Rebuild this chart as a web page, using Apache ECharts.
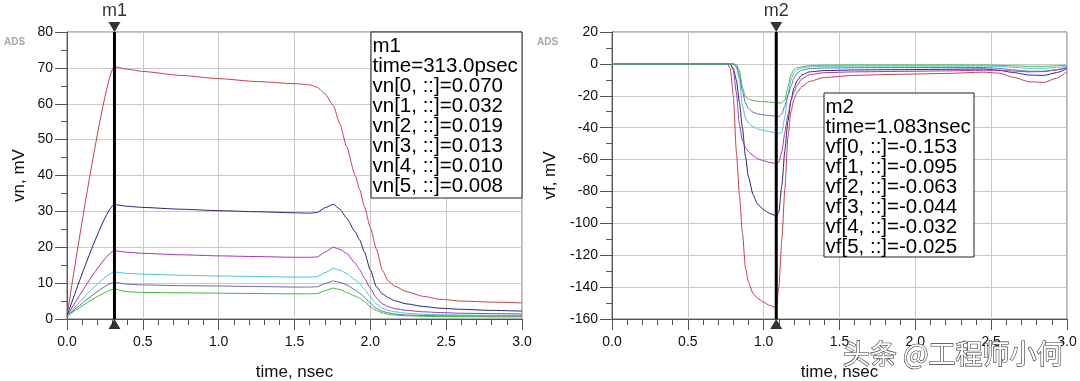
<!DOCTYPE html>
<html><head><meta charset="utf-8">
<script src="https://cdn.jsdelivr.net/npm/echarts@6/dist/echarts.min.js"></script>
<style>html,body{margin:0;padding:0;background:#fff}#c{width:1080px;height:381px}</style>
</head><body><div id="c"></div>
<script>
// ---------- data ----------
const tLeft = [0, 0.313, 0.4, 0.5, 0.75, 1.0, 1.25, 1.5, 1.6, 1.65, 1.7, 1.756, 1.8, 1.844, 1.9, 1.93, 1.96, 2.0, 2.04, 2.08, 2.12, 2.16, 2.24, 2.35, 2.46, 2.6, 2.8, 3.0];
const vn0 = [0.8, 70.3, 69.6, 69.0, 67.9, 67.0, 66.2, 65.6, 65.3, 64.6, 62.8, 59.5, 54.3, 48.0, 40.0, 36.0, 31.5, 25.5, 19.5, 13.5, 10.5, 9.2, 7.6, 6.3, 5.5, 5.0, 4.7, 4.5];
const vn1 = [0.8, 31.9, 31.4, 31.1, 30.6, 30.2, 29.9, 29.6, 29.5, 29.7, 31.0, 32.0, 30.6, 28.1, 24.3, 22.0, 18.8, 13.7, 9.0, 7.0, 5.9, 5.1, 4.2, 3.5, 3.0, 2.7, 2.4, 2.2];
const vn2 = [0.8, 19.0, 18.6, 18.3, 17.9, 17.6, 17.4, 17.2, 17.2, 17.3, 18.6, 20.0, 19.4, 18.3, 15.6, 13.7, 11.4, 8.6, 5.9, 4.2, 3.4, 2.9, 2.4, 2.0, 1.8, 1.6, 1.5, 1.4];
const vn3 = [0.8, 13.1, 12.7, 12.5, 12.2, 12.0, 11.85, 11.7, 11.7, 11.8, 12.9, 14.1, 13.6, 12.7, 10.9, 9.9, 8.3, 6.2, 4.2, 3.0, 2.4, 2.0, 1.6, 1.3, 1.2, 1.1, 1.0, 1.0];
const vn4 = [0.8, 10.2, 9.7, 9.5, 9.3, 9.2, 9.05, 8.9, 8.9, 9.0, 9.9, 10.6, 10.2, 9.5, 8.1, 7.2, 6.1, 4.4, 3.0, 2.1, 1.7, 1.4, 1.1, 1.0, 0.9, 0.85, 0.8, 0.8];
const vn5 = [0.8, 8.3, 7.6, 7.4, 7.3, 7.2, 7.1, 7.0, 7.0, 7.1, 7.9, 8.6, 8.2, 7.4, 6.4, 5.8, 4.9, 3.4, 2.4, 1.7, 1.3, 1.1, 0.9, 0.75, 0.7, 0.65, 0.6, 0.6];

const tRight = [0, 0.76, 0.78, 0.8, 0.82, 0.84, 0.86, 0.88, 0.9, 0.93, 0.96, 1.0, 1.04, 1.083, 1.1, 1.12, 1.14, 1.16, 1.18, 1.2, 1.22, 1.25, 1.3, 1.4, 1.6, 1.9, 2.2, 2.45, 2.55, 2.65, 2.75, 2.85, 2.93, 3.0];
const vf0 = [0, 0, -3, -20, -55, -82, -106, -128, -137, -144, -147, -149.5, -151.5, -153, -140, -110, -78, -46, -30, -22, -18, -14.5, -11, -8.5, -7.2, -6.5, -6.0, -5.2, -5.8, -8.5, -11.2, -11.6, -9, -4.8];
const vf1 = [0, 0, 0, -3, -10, -24, -40, -58, -71, -82, -88, -91.5, -93.8, -95.3, -93, -76, -54, -36, -23, -15, -10.5, -7, -5, -4.2, -3.8, -3.6, -3.4, -3.2, -4, -5.5, -7, -7.2, -5.5, -3];
const vf2 = [0, 0, 0, -4, -18, -38, -48, -52.5, -55, -57.5, -59.5, -60.8, -61.8, -62.5, -61.5, -55, -43, -32, -23, -17.5, -13.5, -9.5, -6.8, -5.5, -5, -4.7, -4.4, -4, -4, -4.5, -5, -4.8, -3.8, -2.5];
const vf3 = [0, 0, 0, 0, -2, -10, -26, -34, -37.2, -39.5, -40.8, -41.7, -42.5, -43.4, -43.6, -43, -33, -19, -10, -5.5, -3.8, -2.6, -1.9, -1.5, -1.4, -1.4, -1.4, -1.4, -1.6, -2.2, -2.8, -2.8, -2.2, -1.5];
const vf4 = [0, 0, 0, 0, -1.5, -7, -17, -24.5, -28, -30.3, -31.4, -32, -32.4, -32.8, -33, -31.5, -26, -20, -14, -9, -5.8, -4, -3, -2.6, -2.4, -2.3, -2.3, -2.3, -2.8, -3.8, -4.6, -4.6, -3.6, -2.2];
const vf5 = [0, 0, 0, 0, -0.5, -4, -15, -20.5, -22.2, -23, -23.4, -23.7, -24, -24.3, -24.5, -24.5, -22.5, -14.5, -7, -3.6, -2.5, -1.8, -1.1, -0.8, -0.7, -0.7, -0.7, -0.7, -0.9, -1.2, -1.5, -1.5, -1.2, -0.8];

const lineColors = ['#c8404a', '#22247a', '#a532b4', '#45c6d8', '#6a6aaa', '#40b840'];
const xTickLabels = ['0.0', '0.5', '1.0', '1.5', '2.0', '2.5', '3.0'];
const leftY = [0, 80];
const rightY = [-160, 20];
const marker1 = 0.313;
const marker2 = 1.083;
const vnAtMarker = [0.070, 0.032, 0.019, 0.013, 0.010, 0.008];
const vfAtMarker = [-0.153, -0.095, -0.063, -0.044, -0.032, -0.025];

// ---------- chart ----------
const FONT = '"Liberation Sans", Arial, Helvetica, sans-serif';
const chart = echarts.init(document.getElementById('c'), null, {renderer: 'canvas'});

function xAxisCfg(gi) {
  return {
    gridIndex: gi, type: 'value', min: 0, max: 3, interval: 0.5,
    axisLine: {show: true, onZero: false, lineStyle: {color: '#555', width: 1}},
    axisTick: {show: true, length: 11, lineStyle: {color: '#555'}},
    minorTick: {show: true, splitNumber: 5, length: 6, lineStyle: {color: '#555'}},
    splitLine: {show: true, lineStyle: {color: '#cacaca', width: 1}},
    axisLabel: {formatter: (v) => xTickLabels[Math.round(v / 0.5)], fontSize: 14, color: '#111', margin: 16, fontFamily: FONT}
  };
}
function yAxisCfg(gi, range, interval) {
  return {
    gridIndex: gi, type: 'value', min: range[0], max: range[1], interval: interval,
    axisLine: {show: true, onZero: false, lineStyle: {color: '#555', width: 1}},
    axisTick: {show: true, length: 12, lineStyle: {color: '#555'}},
    minorTick: {show: true, splitNumber: 2, length: 6, lineStyle: {color: '#555'}},
    splitLine: {show: true, lineStyle: {color: '#cacaca', width: 1}},
    axisLabel: {fontSize: 14, color: '#111', margin: 14, fontFamily: FONT}
  };
}

const series = [];
const vnAll = [vn0, vn1, vn2, vn3, vn4, vn5];
const vfAll = [vf0, vf1, vf2, vf3, vf4, vf5];
vnAll.forEach((arr, i) => series.push({
  type: 'line', xAxisIndex: 0, yAxisIndex: 0, showSymbol: false, smooth: 0.2, smoothMonotone: 'x',
  data: tLeft.map((t, j) => [t, arr[j]]), lineStyle: {width: 1, color: lineColors[i]}, z: 2
}));
vfAll.forEach((arr, i) => series.push({
  type: 'line', xAxisIndex: 1, yAxisIndex: 1, showSymbol: false, smooth: 0.2, smoothMonotone: 'x',
  data: tRight.map((t, j) => [t, arr[j]]), lineStyle: {width: 1, color: lineColors[i]}, z: 2
}));

const downTri = 'path://M0,0 L12,0 L6,10 Z';
function markerSeries(ai, m, range, name) {
  return [
    {type: 'line', xAxisIndex: ai, yAxisIndex: ai, showSymbol: false, data: [[m, range[0]], [m, range[1]]],
     lineStyle: {width: 3, color: '#000'}, z: 5},
    {type: 'scatter', xAxisIndex: ai, yAxisIndex: ai, clip: false, data: [[m, range[1]]], symbol: downTri,
     symbolSize: [12, 10], symbolOffset: [0, -5], itemStyle: {color: '#000'}, z: 6,
     label: {show: true, formatter: name, position: 'top', distance: 2, fontSize: 18, color: '#000', fontFamily: FONT}},
    {type: 'scatter', xAxisIndex: ai, yAxisIndex: ai, clip: false, data: [[m, range[0]]], symbol: 'triangle',
     symbolSize: [12, 10], symbolOffset: [0, 5], itemStyle: {color: '#000'}, z: 6}
  ];
}
series.push(...markerSeries(0, marker1, leftY, 'm1'));
series.push(...markerSeries(1, marker2, rightY, 'm2'));

const box1Text = ['m1', 'time=' + (marker1 * 1000).toFixed(1) + 'psec']
  .concat(vnAtMarker.map((v, i) => 'vn[' + i + ', ::]=' + v.toFixed(3))).join('\n');
const box2Text = ['m2', 'time=' + marker2.toFixed(3) + 'nsec']
  .concat(vfAtMarker.map((v, i) => 'vf[' + i + ', ::]=' + v.toFixed(3))).join('\n');

chart.setOption({
  animation: false,
  backgroundColor: '#fff',
  grid: [
    {left: 67, top: 32, width: 455, height: 287, show: true, borderColor: '#707070', borderWidth: 1, backgroundColor: 'transparent'},
    {left: 612, top: 32, width: 455, height: 287, show: true, borderColor: '#707070', borderWidth: 1, backgroundColor: 'transparent'}
  ],
  xAxis: [xAxisCfg(0), xAxisCfg(1)],
  yAxis: [yAxisCfg(0, leftY, 10), yAxisCfg(1, rightY, 20)],
  series: series,
  graphic: [
    {type: 'rect', shape: {x: 371, y: 32, width: 151, height: 166}, style: {fill: '#fff', stroke: '#222', lineWidth: 1}, z: 100},
    {type: 'text', x: 372.5, y: 36, z: 101, style: {text: box1Text, fontSize: 20.5, lineHeight: 20, fontFamily: FONT, fill: '#000'}},
    {type: 'rect', shape: {x: 824, y: 93, width: 150, height: 164}, style: {fill: '#fff', stroke: '#222', lineWidth: 1}, z: 100},
    {type: 'text', x: 825.5, y: 97, z: 101, style: {text: box2Text, fontSize: 20.5, lineHeight: 20, fontFamily: FONT, fill: '#000'}},
    {type: 'text', x: 19.5, y: 175.5, rotation: Math.PI / 2, style: {text: 'vn, mV', fontSize: 17, fontFamily: FONT, fill: '#111', align: 'center', verticalAlign: 'middle'}},
    {type: 'text', x: 550, y: 175.5, rotation: Math.PI / 2, style: {text: 'vf, mV', fontSize: 17, fontFamily: FONT, fill: '#111', align: 'center', verticalAlign: 'middle'}},
    {type: 'text', x: 294.5, y: 372.5, style: {text: 'time, nsec', fontSize: 17, fontFamily: FONT, fill: '#111', align: 'center', verticalAlign: 'middle'}},
    {type: 'text', x: 839.5, y: 372.5, style: {text: 'time, nsec', fontSize: 17, fontFamily: FONT, fill: '#111', align: 'center', verticalAlign: 'middle'}},
    {type: 'text', x: 4, y: 42, style: {text: 'ADS', fontSize: 10, fontWeight: 'bold', fontFamily: FONT, fill: '#a8a8a8', verticalAlign: 'middle'}},
    {type: 'text', x: 537, y: 42, style: {text: 'ADS', fontSize: 10, fontWeight: 'bold', fontFamily: FONT, fill: '#a8a8a8', verticalAlign: 'middle'}},
    {type: 'text', x: 843, y: 354, z: 200, style: {text: '头条 @工程师小何', fontSize: 27, fontFamily: '"Noto Sans CJK SC", sans-serif', fill: '#fff', stroke: '#333', lineWidth: 1.2, verticalAlign: 'middle'}}
  ]
});
</script></body></html>
